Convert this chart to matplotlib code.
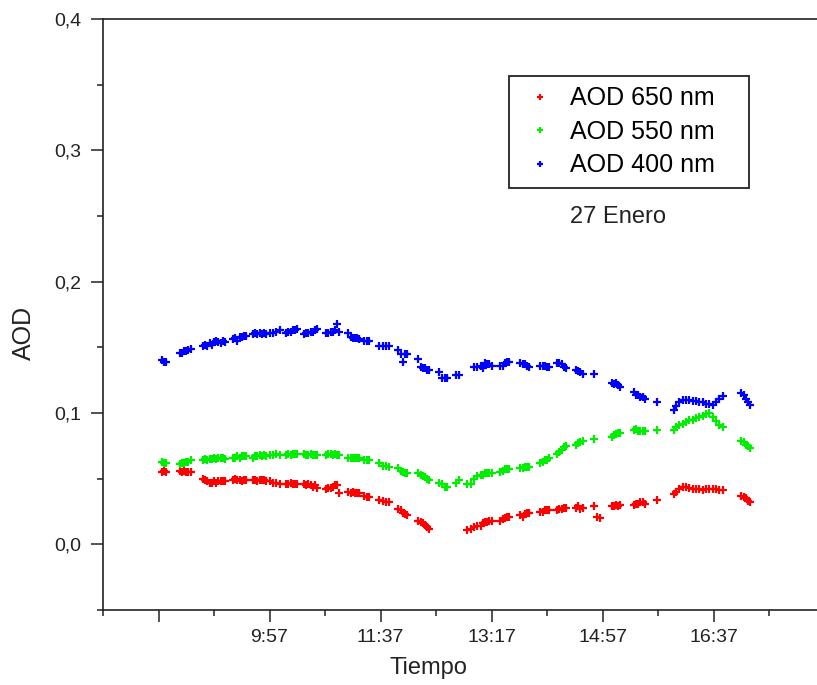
import numpy as np
import matplotlib
matplotlib.use("Agg")
import matplotlib.pyplot as plt
from matplotlib.ticker import FixedLocator

plt.rcParams['font.family'] = ['Liberation Sans', 'DejaVu Sans']

nan = np.nan
# time of day in minutes after midnight
time_min = [500, 502, 504, 516, 518, 520, 522, 524, 526,
            537, 539, 541, 543, 545, 547, 549, 551, 553, 555, 557,
            564, 566, 568, 570, 572, 574, 576,
            582, 584, 586, 588, 590, 592, 594,
            597, 600, 603, 606,
            612, 614, 616, 618, 620, 622,
            628, 630, 632, 634, 636, 638, 640,
            648, 650, 652, 654, 656, 658, 660,
            668, 670, 672, 674, 676, 678,
            682, 685, 687,
            696, 699, 702, 705,
            713, 715, 717, 719, 721,
            731, 733, 735, 737, 739, 741,
            750, 752, 755, 757, 765, 768,
            775, 778, 781, 784, 787,
            789, 791, 793, 795, 797,
            805, 807, 809, 811, 813,
            823, 825, 827, 829, 831,
            841, 843, 845, 847, 849,
            856, 858, 860, 862, 864,
            873, 875, 877, 879,
            889, 892, 895,
            905, 907, 909, 911, 913,
            925, 927, 929, 931, 933, 935,
            946,
            961, 963, 966, 969, 972, 975, 978, 981, 984, 987, 990, 993, 996, 999, 1002, 1005,
            1022, 1024, 1026, 1028, 1030]

aod_400 = [0.140, 0.139, 0.139, 0.146, 0.146, 0.147, 0.147, 0.148, 0.149,
           0.151, 0.152, 0.151, 0.153, 0.152, 0.154, 0.155, 0.154, 0.153, 0.155, 0.154,
           0.156, 0.157, 0.155, 0.158, 0.158, 0.159, 0.159,
           0.160, 0.161, 0.160, 0.161, 0.160, 0.161, 0.160,
           0.161, 0.161, 0.162, 0.163,
           0.161, 0.162, 0.162, 0.163, 0.163, 0.164,
           0.160, 0.161, 0.161, 0.162, 0.162, 0.163, 0.164,
           0.161, 0.161, 0.162, 0.162, 0.163, 0.168, 0.162,
           0.161, 0.158, 0.157, 0.157, 0.157, 0.156,
           0.155, 0.155, 0.155,
           0.151, 0.151, 0.151, 0.151,
           0.148, 0.145, 0.139, 0.145, 0.145,
           0.141, 0.135, 0.134, 0.134, 0.133, 0.133,
           0.131, 0.127, 0.127, 0.127, 0.129, 0.129,
           nan, nan, 0.135, 0.135, 0.136,
           0.134, 0.138, 0.137, 0.137, 0.136,
           0.136, 0.136, 0.138, 0.139, 0.139,
           0.138, 0.137, 0.137, 0.136, 0.135,
           0.136, 0.136, 0.136, 0.135, 0.135,
           0.138, 0.138, 0.137, 0.135, 0.134,
           0.133, 0.132, 0.131, 0.130,
           0.130, nan, nan,
           0.123, 0.122, 0.123, 0.121, 0.120,
           0.116, 0.114, 0.114, 0.112, 0.112, 0.111,
           0.108,
           0.102, 0.105, 0.108, 0.110, 0.110, 0.110, 0.109, 0.109, 0.108, 0.108, 0.107, 0.107, 0.106, 0.108, 0.111, 0.113,
           0.115, 0.114, 0.111, 0.108, 0.106]

aod_550 = [0.063, 0.062, 0.062, 0.061, 0.062, 0.062, 0.063, 0.063, 0.064,
           0.064, 0.065, 0.064, 0.065, 0.065, 0.066, 0.065, 0.066, 0.066, 0.066, 0.065,
           0.066, 0.066, 0.067, 0.066, 0.067, 0.067, 0.067,
           0.066, 0.067, 0.067, 0.068, 0.067, 0.068, 0.067,
           0.068, 0.068, 0.069, 0.068,
           0.068, 0.069, 0.068, 0.069, 0.069, 0.069,
           0.069, 0.068, 0.068, 0.069, 0.068, 0.068, 0.068,
           0.068, 0.069, 0.069, 0.068, 0.069, 0.068, 0.068,
           0.066, 0.066, 0.066, 0.066, 0.066, 0.066,
           0.064, 0.064, 0.064,
           0.062, 0.060, 0.060, 0.059,
           0.058, 0.056, 0.055, 0.054, 0.054,
           0.054, 0.053, 0.052, 0.051, 0.050, 0.049,
           0.047, 0.046, 0.044, 0.044, 0.047, 0.049,
           0.046, 0.046, 0.050, 0.052, 0.053,
           0.053, 0.054, 0.054, 0.054, 0.054,
           0.055, 0.056, 0.057, 0.057, 0.057,
           0.058, 0.058, 0.059, 0.059, 0.059,
           0.062, 0.063, 0.064, 0.064, 0.066,
           0.069, 0.070, 0.072, 0.074, 0.075,
           0.076, 0.077, 0.078, 0.079,
           0.080, nan, nan,
           0.082, 0.083, 0.084, 0.085, 0.085,
           0.087, 0.088, 0.086, 0.086, 0.086, 0.086,
           0.087,
           0.087, 0.089, 0.091, 0.092, 0.093, 0.095, 0.095, 0.096, 0.097, 0.098, 0.099, 0.100, 0.097, 0.094, 0.091, 0.089,
           0.079, 0.078, 0.076, 0.075, 0.073]

aod_650 = [0.055, 0.056, 0.055, 0.056, 0.055, 0.056, 0.055, 0.055, 0.055,
           0.050, 0.049, 0.048, 0.047, 0.047, 0.048, 0.047, 0.048, 0.048, 0.048, 0.048,
           0.049, 0.050, 0.049, 0.049, 0.048, 0.049, 0.049,
           0.049, 0.049, 0.048, 0.049, 0.049, 0.049, 0.048,
           0.048, 0.047, 0.047, 0.046,
           0.046, 0.046, 0.047, 0.046, 0.046, 0.046,
           0.046, 0.045, 0.046, 0.045, 0.044, 0.045, 0.043,
           0.042, 0.043, 0.043, 0.044, 0.045, 0.045, 0.039,
           0.040, 0.039, 0.040, 0.039, 0.039, 0.039,
           0.037, 0.036, 0.036,
           0.034, 0.033, 0.032, 0.032,
           0.027, 0.026, 0.024, 0.023, 0.022,
           0.018, 0.017, 0.016, 0.015, 0.013, 0.012,
           nan, nan, nan, nan, nan, nan,
           0.011, 0.012, 0.013, 0.014, 0.014,
           0.016, 0.017, 0.017, 0.018, 0.018,
           0.018, 0.019, 0.020, 0.021, 0.021,
           0.022, 0.021, 0.023, 0.024, 0.024,
           0.025, 0.025, 0.026, 0.026, 0.026,
           0.026, 0.027, 0.027, 0.028, 0.028,
           0.028, 0.029, 0.027, 0.028,
           0.029, 0.021, 0.020,
           0.029, 0.029, 0.030, 0.029, 0.030,
           0.030, 0.031, 0.031, 0.032, 0.032, 0.031,
           0.034,
           0.038, 0.040, 0.042, 0.044, 0.044, 0.043, 0.042, 0.042, 0.042, 0.041, 0.042, 0.042, 0.042, 0.042, 0.041, 0.041,
           0.037, 0.036, 0.035, 0.033, 0.032]

series_labels = ["AOD 650 nm", "AOD 550 nm", "AOD 400 nm"]
series_colors = ["#ff0000", "#00ee00", "#0000ff"]

x_major = [497, 597, 697, 797, 897, 997]
x_major_labels = ["", "9:57", "11:37", "13:17", "14:57", "16:37"]
x_minor = [447, 547, 647, 747, 847, 947, 1047]
y_major = [0.0, 0.1, 0.2, 0.3, 0.4]
y_major_labels = ["0,0", "0,1", "0,2", "0,3", "0,4"]
y_minor = [-0.05, 0.05, 0.15, 0.25, 0.35]

W, H = 817, 685
fig = plt.figure(figsize=(W / 100, H / 100), dpi=100)
ax_left, ax_right, ax_top, ax_bottom = 103, 824.7, 19, 610
ax = fig.add_axes([ax_left / W, 1 - ax_bottom / H,
                   (ax_right - ax_left) / W, (ax_bottom - ax_top) / H])

for vals, lab, col in zip([aod_650, aod_550, aod_400], series_labels, series_colors):
    ax.plot(time_min, vals, linestyle='none', marker='+', markersize=5.5,
            markeredgewidth=1.6, color=col, label=lab)

ax.set_xlim(447, 1097)
ax.set_ylim(-0.05, 0.4)

ax.xaxis.set_major_locator(FixedLocator(x_major))
ax.set_xticklabels(x_major_labels)
ax.xaxis.set_minor_locator(FixedLocator(x_minor))
ax.yaxis.set_major_locator(FixedLocator(y_major))
ax.set_yticklabels(y_major_labels)
ax.yaxis.set_minor_locator(FixedLocator(y_minor))

axcol = '#222222'
for side in ['left', 'bottom', 'top']:
    ax.spines[side].set_linewidth(1.2)
    ax.spines[side].set_color(axcol)
ax.spines['right'].set_visible(False)

ax.tick_params(axis='both', which='major', direction='out', length=8.6, width=1.1,
               color=axcol, labelcolor='#222222', labelsize=14)
ax.tick_params(axis='both', which='minor', direction='out', length=4.3, width=1.1,
               color=axcol)
ax.tick_params(axis='y', which='major', pad=7)
ax.tick_params(axis='x', which='major', pad=5)
ax.tick_params(top=False, right=False)

ax.set_xlabel('Tiempo', fontsize=17, color='#222222')
ax.set_ylabel('AOD', fontsize=18, color='#222222')
ax.xaxis.label.set_va('center')
ax.yaxis.label.set_va('center')
aw = ax_right - ax_left
ah = ax_bottom - ax_top
ax.xaxis.set_label_coords((428 - ax_left) / aw, (ax_bottom - 668) / ah)
ax.yaxis.set_label_coords((24 - ax_left) / aw, (ax_bottom - 333) / ah)

leg_x0, leg_x1, leg_top, leg_bot = 509, 749, 76, 188
leg = ax.legend(loc='upper left',
                bbox_to_anchor=((leg_x0 - ax_left) / aw, (ax_bottom - leg_bot) / ah,
                                (leg_x1 - leg_x0) / aw, (leg_bot - leg_top) / ah),
                mode='expand',
                fontsize=18, frameon=True, fancybox=False, framealpha=1,
                edgecolor='#222222', borderpad=0.41, handlelength=1.66,
                handletextpad=0.37, labelspacing=0.38, markerscale=0.7,
                borderaxespad=0)
leg.get_frame().set_linewidth(1.3)

ax.text((570 - ax_left) / aw, (ax_bottom - 217) / ah, '27 Enero', transform=ax.transAxes,
        fontsize=17, ha='left', va='center', color='#222222')

fig.savefig('out.png', dpi=100)
